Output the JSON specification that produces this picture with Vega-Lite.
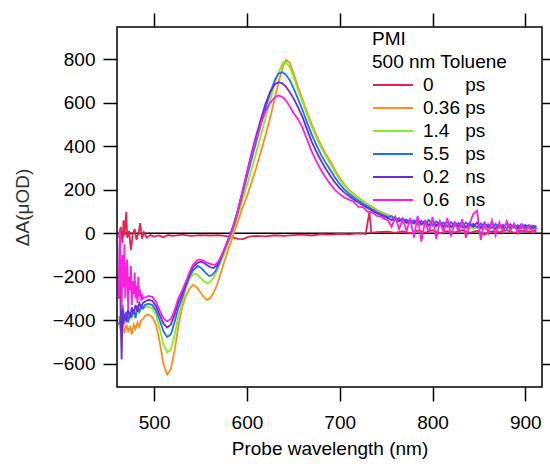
{
"$schema":"https://vega.github.io/schema/vega-lite/v6.json",
"width":425,"height":360,
"autosize":{"type":"none"},
"padding":{"left":117,"top":27,"right":8,"bottom":77},
"background":"white",
"config":{"font":"Liberation Sans","view":{"stroke":"black","strokeWidth":1.5},
"axis":{"grid":false,"domain":false,"tickColor":"black","tickWidth":1.5,"tickSize":14,"labelFontSize":19,"labelColor":"black","titleFontSize":19,"titleFontWeight":"normal","titleColor":"black","labelFont":"Liberation Sans","titleFont":"Liberation Sans","labelOverlap":false,"labelFlush":false}},
"datasets":{"spec":[
{"s":"a","w":462,"v":-20},{"s":"a","w":464,"v":30},{"s":"a","w":466,"v":-45},{"s":"a","w":467,"v":60},{"s":"a","w":468,"v":-10},{"s":"a","w":470,"v":99},{"s":"a","w":471,"v":-20},{"s":"a","w":473,"v":10},{"s":"a","w":475,"v":-77},{"s":"a","w":477,"v":-5},{"s":"a","w":479,"v":20},{"s":"a","w":481,"v":-30},{"s":"a","w":483,"v":0},{"s":"a","w":485,"v":47},{"s":"a","w":487,"v":-25},{"s":"a","w":489,"v":5},{"s":"a","w":492,"v":-20},{"s":"a","w":496,"v":-8},{"s":"a","w":500,"v":-15},{"s":"a","w":505,"v":-10},{"s":"a","w":510,"v":-18},{"s":"a","w":515,"v":-8},{"s":"a","w":520,"v":-12},{"s":"a","w":530,"v":-6},{"s":"a","w":540,"v":-12},{"s":"a","w":550,"v":-8},{"s":"a","w":560,"v":-10},{"s":"a","w":570,"v":-8},{"s":"a","w":580,"v":-14},{"s":"a","w":586,"v":-20},{"s":"a","w":590,"v":-26},{"s":"a","w":596,"v":-27},{"s":"a","w":602,"v":-15},{"s":"a","w":610,"v":-12},{"s":"a","w":620,"v":-14},{"s":"a","w":630,"v":-9},{"s":"a","w":640,"v":-12},{"s":"a","w":650,"v":-8},{"s":"a","w":660,"v":-6},{"s":"a","w":670,"v":-10},{"s":"a","w":680,"v":-4},{"s":"a","w":690,"v":-6},{"s":"a","w":700,"v":-2},{"s":"a","w":710,"v":-5},{"s":"a","w":720,"v":0},{"s":"a","w":728,"v":-3},{"s":"a","w":732,"v":99},{"s":"a","w":734,"v":2},{"s":"a","w":740,"v":5},{"s":"a","w":752,"v":8},{"s":"a","w":760,"v":2},{"s":"a","w":768,"v":10},{"s":"a","w":776,"v":0},{"s":"a","w":784,"v":12},{"s":"a","w":792,"v":3},{"s":"a","w":800,"v":14},{"s":"a","w":808,"v":0},{"s":"a","w":816,"v":10},{"s":"a","w":824,"v":4},{"s":"a","w":832,"v":15},{"s":"a","w":840,"v":2},{"s":"a","w":848,"v":12},{"s":"a","w":856,"v":-5},{"s":"a","w":864,"v":10},{"s":"a","w":872,"v":5},{"s":"a","w":880,"v":15},{"s":"a","w":888,"v":2},{"s":"a","w":896,"v":12},{"s":"a","w":904,"v":6},{"s":"a","w":912,"v":10},

{"s":"b","w":462,"v":-410},{"s":"b","w":464,"v":-450},{"s":"b","w":466,"v":-400},{"s":"b","w":468,"v":-460},{"s":"b","w":470,"v":-420},{"s":"b","w":472,"v":-450},{"s":"b","w":474,"v":-430},{"s":"b","w":476,"v":-465},{"s":"b","w":478,"v":-420},{"s":"b","w":480,"v":-440},{"s":"b","w":482,"v":-410},{"s":"b","w":484,"v":-430},{"s":"b","w":486,"v":-400},{"s":"b","w":488,"v":-395},{"s":"b","w":490,"v":-380},{"s":"b","w":494,"v":-374},{"s":"b","w":498,"v":-385},{"s":"b","w":502,"v":-420},{"s":"b","w":506,"v":-500},{"s":"b","w":510,"v":-600},{"s":"b","w":514,"v":-650},{"s":"b","w":518,"v":-625},{"s":"b","w":522,"v":-540},{"s":"b","w":526,"v":-430},{"s":"b","w":530,"v":-345},{"s":"b","w":534,"v":-290},{"s":"b","w":538,"v":-255},{"s":"b","w":542,"v":-237},{"s":"b","w":546,"v":-248},{"s":"b","w":550,"v":-272},{"s":"b","w":554,"v":-296},{"s":"b","w":557,"v":-306},{"s":"b","w":560,"v":-300},{"s":"b","w":564,"v":-275},{"s":"b","w":568,"v":-235},{"s":"b","w":572,"v":-180},{"s":"b","w":576,"v":-125},{"s":"b","w":580,"v":-75},{"s":"b","w":585,"v":-10},{"s":"b","w":590,"v":50},{"s":"b","w":595,"v":115},{"s":"b","w":600,"v":170},{"s":"b","w":605,"v":235},{"s":"b","w":610,"v":300},{"s":"b","w":615,"v":375},{"s":"b","w":620,"v":450},{"s":"b","w":625,"v":530},{"s":"b","w":630,"v":620},{"s":"b","w":635,"v":710},{"s":"b","w":639,"v":770},{"s":"b","w":642,"v":798},{"s":"b","w":646,"v":785},{"s":"b","w":650,"v":740},{"s":"b","w":655,"v":675},{"s":"b","w":660,"v":615},{"s":"b","w":665,"v":555},{"s":"b","w":670,"v":500},{"s":"b","w":675,"v":450},{"s":"b","w":680,"v":405},{"s":"b","w":685,"v":365},{"s":"b","w":690,"v":330},{"s":"b","w":695,"v":290},{"s":"b","w":700,"v":255},{"s":"b","w":705,"v":225},{"s":"b","w":710,"v":200},{"s":"b","w":715,"v":182},{"s":"b","w":720,"v":165},{"s":"b","w":725,"v":150},{"s":"b","w":730,"v":135},{"s":"b","w":735,"v":122},{"s":"b","w":740,"v":108},{"s":"b","w":744,"v":100},{"s":"b","w":748,"v":92},
{"s":"b","w":752,"v":85},{"s":"b","w":756,"v":78},{"s":"b","w":760,"v":72},{"s":"b","w":764,"v":60},{"s":"b","w":768,"v":66},{"s":"b","w":772,"v":55},{"s":"b","w":776,"v":58},{"s":"b","w":780,"v":48},{"s":"b","w":784,"v":55},{"s":"b","w":788,"v":42},{"s":"b","w":792,"v":50},{"s":"b","w":796,"v":38},{"s":"b","w":800,"v":45},{"s":"b","w":804,"v":35},{"s":"b","w":808,"v":48},{"s":"b","w":812,"v":30},{"s":"b","w":816,"v":40},{"s":"b","w":820,"v":28},{"s":"b","w":824,"v":42},{"s":"b","w":828,"v":25},{"s":"b","w":832,"v":38},{"s":"b","w":836,"v":30},{"s":"b","w":840,"v":22},{"s":"b","w":844,"v":35},{"s":"b","w":848,"v":28},{"s":"b","w":852,"v":40},{"s":"b","w":856,"v":20},{"s":"b","w":860,"v":33},{"s":"b","w":864,"v":25},{"s":"b","w":868,"v":38},{"s":"b","w":872,"v":22},{"s":"b","w":876,"v":30},{"s":"b","w":880,"v":18},{"s":"b","w":884,"v":32},{"s":"b","w":888,"v":24},{"s":"b","w":892,"v":35},{"s":"b","w":896,"v":20},{"s":"b","w":900,"v":28},{"s":"b","w":904,"v":15},{"s":"b","w":908,"v":25},{"s":"b","w":912,"v":20},

{"s":"c","w":462,"v":-380},{"s":"c","w":464,"v":-420},{"s":"c","w":466,"v":-360},{"s":"c","w":468,"v":-410},{"s":"c","w":470,"v":-380},{"s":"c","w":472,"v":-400},{"s":"c","w":474,"v":-370},{"s":"c","w":476,"v":-390},{"s":"c","w":478,"v":-360},{"s":"c","w":480,"v":-380},{"s":"c","w":482,"v":-350},{"s":"c","w":484,"v":-365},{"s":"c","w":486,"v":-345},{"s":"c","w":488,"v":-350},{"s":"c","w":490,"v":-340},{"s":"c","w":494,"v":-338},{"s":"c","w":498,"v":-345},{"s":"c","w":502,"v":-375},{"s":"c","w":506,"v":-440},{"s":"c","w":510,"v":-510},{"s":"c","w":514,"v":-548},{"s":"c","w":518,"v":-535},{"s":"c","w":522,"v":-470},{"s":"c","w":526,"v":-385},{"s":"c","w":530,"v":-320},{"s":"c","w":534,"v":-255},{"s":"c","w":538,"v":-210},{"s":"c","w":542,"v":-190},{"s":"c","w":546,"v":-187},{"s":"c","w":550,"v":-205},{"s":"c","w":554,"v":-222},{"s":"c","w":557,"v":-229},{"s":"c","w":560,"v":-225},{"s":"c","w":564,"v":-205},{"s":"c","w":568,"v":-170},{"s":"c","w":572,"v":-130},{"s":"c","w":576,"v":-90},{"s":"c","w":580,"v":-45},{"s":"c","w":585,"v":10},{"s":"c","w":590,"v":75},{"s":"c","w":595,"v":150},{"s":"c","w":600,"v":220},{"s":"c","w":605,"v":295},{"s":"c","w":610,"v":370},{"s":"c","w":615,"v":450},{"s":"c","w":620,"v":530},{"s":"c","w":625,"v":610},{"s":"c","w":630,"v":690},{"s":"c","w":635,"v":750},{"s":"c","w":639,"v":787},{"s":"c","w":642,"v":785},{"s":"c","w":646,"v":765},{"s":"c","w":650,"v":722},{"s":"c","w":655,"v":660},{"s":"c","w":660,"v":602},{"s":"c","w":665,"v":542},{"s":"c","w":670,"v":488},{"s":"c","w":675,"v":438},{"s":"c","w":680,"v":394},{"s":"c","w":685,"v":354},{"s":"c","w":690,"v":320},{"s":"c","w":695,"v":281},{"s":"c","w":700,"v":248},{"s":"c","w":705,"v":219},{"s":"c","w":710,"v":196},{"s":"c","w":715,"v":178},{"s":"c","w":720,"v":161},{"s":"c","w":725,"v":146},{"s":"c","w":730,"v":132},{"s":"c","w":735,"v":118},{"s":"c","w":740,"v":105},{"s":"c","w":744,"v":96},{"s":"c","w":748,"v":88},
{"s":"c","w":752,"v":80},{"s":"c","w":756,"v":70},{"s":"c","w":760,"v":74},{"s":"c","w":764,"v":58},{"s":"c","w":768,"v":62},{"s":"c","w":772,"v":50},{"s":"c","w":776,"v":56},{"s":"c","w":780,"v":44},{"s":"c","w":784,"v":52},{"s":"c","w":788,"v":40},{"s":"c","w":792,"v":46},{"s":"c","w":796,"v":32},{"s":"c","w":800,"v":44},{"s":"c","w":804,"v":30},{"s":"c","w":808,"v":40},{"s":"c","w":812,"v":26},{"s":"c","w":816,"v":38},{"s":"c","w":820,"v":30},{"s":"c","w":824,"v":36},{"s":"c","w":828,"v":22},{"s":"c","w":832,"v":34},{"s":"c","w":836,"v":26},{"s":"c","w":840,"v":32},{"s":"c","w":844,"v":20},{"s":"c","w":848,"v":30},{"s":"c","w":852,"v":24},{"s":"c","w":856,"v":34},{"s":"c","w":860,"v":18},{"s":"c","w":864,"v":28},{"s":"c","w":868,"v":22},{"s":"c","w":872,"v":32},{"s":"c","w":876,"v":18},{"s":"c","w":880,"v":26},{"s":"c","w":884,"v":20},{"s":"c","w":888,"v":30},{"s":"c","w":892,"v":16},{"s":"c","w":896,"v":26},{"s":"c","w":900,"v":20},{"s":"c","w":904,"v":28},{"s":"c","w":908,"v":18},{"s":"c","w":912,"v":22},

{"s":"d","w":462,"v":-420},{"s":"d","w":464,"v":-380},{"s":"d","w":466,"v":-330},{"s":"d","w":468,"v":-400},{"s":"d","w":470,"v":-360},{"s":"d","w":472,"v":-410},{"s":"d","w":474,"v":-370},{"s":"d","w":476,"v":-380},{"s":"d","w":478,"v":-350},{"s":"d","w":480,"v":-390},{"s":"d","w":482,"v":-340},{"s":"d","w":484,"v":-360},{"s":"d","w":486,"v":-335},{"s":"d","w":488,"v":-345},{"s":"d","w":490,"v":-330},{"s":"d","w":494,"v":-324},{"s":"d","w":498,"v":-330},{"s":"d","w":502,"v":-355},{"s":"d","w":506,"v":-400},{"s":"d","w":510,"v":-450},{"s":"d","w":514,"v":-477},{"s":"d","w":518,"v":-465},{"s":"d","w":522,"v":-410},{"s":"d","w":526,"v":-345},{"s":"d","w":530,"v":-300},{"s":"d","w":534,"v":-245},{"s":"d","w":538,"v":-200},{"s":"d","w":542,"v":-170},{"s":"d","w":547,"v":-150},{"s":"d","w":551,"v":-160},{"s":"d","w":555,"v":-180},{"s":"d","w":559,"v":-196},{"s":"d","w":562,"v":-194},{"s":"d","w":566,"v":-175},{"s":"d","w":570,"v":-140},{"s":"d","w":575,"v":-85},{"s":"d","w":580,"v":-30},{"s":"d","w":585,"v":25},{"s":"d","w":590,"v":95},{"s":"d","w":595,"v":175},{"s":"d","w":600,"v":260},{"s":"d","w":605,"v":340},{"s":"d","w":610,"v":420},{"s":"d","w":615,"v":500},{"s":"d","w":620,"v":575},{"s":"d","w":625,"v":645},{"s":"d","w":630,"v":705},{"s":"d","w":634,"v":735},{"s":"d","w":638,"v":741},{"s":"d","w":642,"v":730},{"s":"d","w":646,"v":705},{"s":"d","w":650,"v":670},{"s":"d","w":655,"v":618},{"s":"d","w":660,"v":566},{"s":"d","w":665,"v":507},{"s":"d","w":670,"v":453},{"s":"d","w":675,"v":404},{"s":"d","w":680,"v":361},{"s":"d","w":685,"v":323},{"s":"d","w":690,"v":290},{"s":"d","w":695,"v":256},{"s":"d","w":700,"v":227},{"s":"d","w":705,"v":202},{"s":"d","w":710,"v":183},{"s":"d","w":715,"v":166},{"s":"d","w":720,"v":151},{"s":"d","w":725,"v":137},{"s":"d","w":730,"v":124},{"s":"d","w":735,"v":110},{"s":"d","w":740,"v":98},{"s":"d","w":744,"v":90},{"s":"d","w":748,"v":83},
{"s":"d","w":752,"v":75},{"s":"d","w":756,"v":80},{"s":"d","w":760,"v":62},{"s":"d","w":764,"v":70},{"s":"d","w":768,"v":52},{"s":"d","w":772,"v":64},{"s":"d","w":776,"v":46},{"s":"d","w":780,"v":60},{"s":"d","w":784,"v":42},{"s":"d","w":788,"v":58},{"s":"d","w":792,"v":40},{"s":"d","w":796,"v":62},{"s":"d","w":800,"v":36},{"s":"d","w":804,"v":55},{"s":"d","w":808,"v":38},{"s":"d","w":812,"v":50},{"s":"d","w":816,"v":30},{"s":"d","w":820,"v":52},{"s":"d","w":824,"v":34},{"s":"d","w":828,"v":48},{"s":"d","w":832,"v":28},{"s":"d","w":836,"v":50},{"s":"d","w":840,"v":32},{"s":"d","w":844,"v":44},{"s":"d","w":848,"v":26},{"s":"d","w":852,"v":46},{"s":"d","w":856,"v":30},{"s":"d","w":860,"v":42},{"s":"d","w":864,"v":24},{"s":"d","w":868,"v":44},{"s":"d","w":872,"v":28},{"s":"d","w":876,"v":40},{"s":"d","w":880,"v":22},{"s":"d","w":884,"v":42},{"s":"d","w":888,"v":26},{"s":"d","w":892,"v":38},{"s":"d","w":896,"v":24},{"s":"d","w":900,"v":40},{"s":"d","w":904,"v":26},{"s":"d","w":908,"v":36},{"s":"d","w":912,"v":30},

{"s":"e","w":462,"v":-300},{"s":"e","w":463,"v":-50},{"s":"e","w":464,"v":-400},{"s":"e","w":465,"v":-580},{"s":"e","w":466,"v":-350},{"s":"e","w":467,"v":-420},{"s":"e","w":468,"v":-380},{"s":"e","w":470,"v":-400},{"s":"e","w":472,"v":-350},{"s":"e","w":474,"v":-390},{"s":"e","w":476,"v":-340},{"s":"e","w":478,"v":-370},{"s":"e","w":480,"v":-330},{"s":"e","w":482,"v":-360},{"s":"e","w":484,"v":-320},{"s":"e","w":486,"v":-340},{"s":"e","w":488,"v":-320},{"s":"e","w":490,"v":-315},{"s":"e","w":494,"v":-306},{"s":"e","w":498,"v":-310},{"s":"e","w":502,"v":-335},{"s":"e","w":506,"v":-375},{"s":"e","w":510,"v":-415},{"s":"e","w":514,"v":-433},{"s":"e","w":518,"v":-420},{"s":"e","w":522,"v":-375},{"s":"e","w":526,"v":-320},{"s":"e","w":530,"v":-280},{"s":"e","w":534,"v":-235},{"s":"e","w":538,"v":-190},{"s":"e","w":542,"v":-155},{"s":"e","w":547,"v":-135},{"s":"e","w":551,"v":-130},{"s":"e","w":555,"v":-140},{"s":"e","w":560,"v":-155},{"s":"e","w":564,"v":-160},{"s":"e","w":568,"v":-145},{"s":"e","w":572,"v":-110},{"s":"e","w":576,"v":-70},{"s":"e","w":580,"v":-25},{"s":"e","w":585,"v":30},{"s":"e","w":590,"v":105},{"s":"e","w":595,"v":190},{"s":"e","w":600,"v":280},{"s":"e","w":605,"v":370},{"s":"e","w":610,"v":450},{"s":"e","w":615,"v":525},{"s":"e","w":620,"v":595},{"s":"e","w":625,"v":650},{"s":"e","w":630,"v":685},{"s":"e","w":634,"v":695},{"s":"e","w":638,"v":690},{"s":"e","w":642,"v":675},{"s":"e","w":646,"v":650},{"s":"e","w":650,"v":623},{"s":"e","w":655,"v":580},{"s":"e","w":660,"v":533},{"s":"e","w":665,"v":476},{"s":"e","w":670,"v":421},{"s":"e","w":675,"v":374},{"s":"e","w":680,"v":333},{"s":"e","w":685,"v":296},{"s":"e","w":690,"v":264},{"s":"e","w":695,"v":233},{"s":"e","w":700,"v":208},{"s":"e","w":705,"v":187},{"s":"e","w":710,"v":172},{"s":"e","w":715,"v":156},{"s":"e","w":720,"v":142},{"s":"e","w":725,"v":129},{"s":"e","w":730,"v":116},{"s":"e","w":735,"v":104},{"s":"e","w":740,"v":92},{"s":"e","w":744,"v":84},{"s":"e","w":748,"v":77},
{"s":"e","w":752,"v":70},{"s":"e","w":756,"v":60},{"s":"e","w":760,"v":72},{"s":"e","w":764,"v":55},{"s":"e","w":768,"v":68},{"s":"e","w":772,"v":48},{"s":"e","w":776,"v":62},{"s":"e","w":780,"v":45},{"s":"e","w":784,"v":66},{"s":"e","w":788,"v":40},{"s":"e","w":792,"v":58},{"s":"e","w":796,"v":36},{"s":"e","w":800,"v":60},{"s":"e","w":804,"v":34},{"s":"e","w":808,"v":54},{"s":"e","w":812,"v":30},{"s":"e","w":816,"v":56},{"s":"e","w":820,"v":28},{"s":"e","w":824,"v":50},{"s":"e","w":828,"v":32},{"s":"e","w":832,"v":52},{"s":"e","w":836,"v":26},{"s":"e","w":840,"v":48},{"s":"e","w":844,"v":30},{"s":"e","w":848,"v":50},{"s":"e","w":852,"v":24},{"s":"e","w":856,"v":46},{"s":"e","w":860,"v":28},{"s":"e","w":864,"v":44},{"s":"e","w":868,"v":22},{"s":"e","w":872,"v":42},{"s":"e","w":876,"v":26},{"s":"e","w":880,"v":44},{"s":"e","w":884,"v":24},{"s":"e","w":888,"v":40},{"s":"e","w":892,"v":22},{"s":"e","w":896,"v":42},{"s":"e","w":900,"v":26},{"s":"e","w":904,"v":38},{"s":"e","w":908,"v":24},{"s":"e","w":912,"v":34},

{"s":"f","w":462,"v":-300},{"s":"f","w":463,"v":20},{"s":"f","w":464,"v":-150},{"s":"f","w":465,"v":-350},{"s":"f","w":466,"v":-100},{"s":"f","w":467,"v":-250},{"s":"f","w":468,"v":-50},{"s":"f","w":469,"v":-300},{"s":"f","w":470,"v":-180},{"s":"f","w":471,"v":-120},{"s":"f","w":472,"v":-350},{"s":"f","w":473,"v":-200},{"s":"f","w":474,"v":-260},{"s":"f","w":475,"v":-150},{"s":"f","w":476,"v":-330},{"s":"f","w":477,"v":-220},{"s":"f","w":478,"v":-280},{"s":"f","w":479,"v":-180},{"s":"f","w":480,"v":-300},{"s":"f","w":481,"v":-240},{"s":"f","w":482,"v":-320},{"s":"f","w":483,"v":-200},{"s":"f","w":484,"v":-290},{"s":"f","w":485,"v":-260},{"s":"f","w":486,"v":-310},{"s":"f","w":487,"v":-280},{"s":"f","w":488,"v":-300},{"s":"f","w":490,"v":-295},{"s":"f","w":494,"v":-288},{"s":"f","w":498,"v":-292},{"s":"f","w":502,"v":-315},{"s":"f","w":506,"v":-355},{"s":"f","w":510,"v":-390},{"s":"f","w":514,"v":-405},{"s":"f","w":518,"v":-395},{"s":"f","w":522,"v":-355},{"s":"f","w":526,"v":-300},{"s":"f","w":530,"v":-265},{"s":"f","w":534,"v":-225},{"s":"f","w":538,"v":-180},{"s":"f","w":542,"v":-145},{"s":"f","w":546,"v":-125},{"s":"f","w":549,"v":-120},{"s":"f","w":553,"v":-125},{"s":"f","w":557,"v":-135},{"s":"f","w":562,"v":-143},{"s":"f","w":566,"v":-145},{"s":"f","w":570,"v":-125},{"s":"f","w":575,"v":-80},{"s":"f","w":580,"v":-30},{"s":"f","w":585,"v":25},{"s":"f","w":590,"v":100},{"s":"f","w":595,"v":185},{"s":"f","w":600,"v":275},{"s":"f","w":605,"v":360},{"s":"f","w":610,"v":435},{"s":"f","w":615,"v":505},{"s":"f","w":620,"v":560},{"s":"f","w":625,"v":600},{"s":"f","w":630,"v":625},{"s":"f","w":634,"v":634},{"s":"f","w":638,"v":628},{"s":"f","w":642,"v":612},{"s":"f","w":646,"v":585},{"s":"f","w":650,"v":555},{"s":"f","w":655,"v":525},{"s":"f","w":660,"v":485},{"s":"f","w":665,"v":430},{"s":"f","w":670,"v":375},{"s":"f","w":675,"v":330},{"s":"f","w":680,"v":290},{"s":"f","w":685,"v":255},{"s":"f","w":690,"v":225},{"s":"f","w":695,"v":200},{"s":"f","w":700,"v":180},{"s":"f","w":705,"v":165},{"s":"f","w":710,"v":155},{"s":"f","w":715,"v":145},{"s":"f","w":720,"v":122},{"s":"f","w":725,"v":120},{"s":"f","w":730,"v":100},{"s":"f","w":735,"v":98},{"s":"f","w":740,"v":80},{"s":"f","w":744,"v":78},{"s":"f","w":748,"v":66},
{"s":"f","w":752,"v":60},{"s":"f","w":756,"v":30},{"s":"f","w":760,"v":75},{"s":"f","w":764,"v":20},{"s":"f","w":768,"v":65},{"s":"f","w":772,"v":10},{"s":"f","w":776,"v":70},{"s":"f","w":780,"v":-20},{"s":"f","w":784,"v":80},{"s":"f","w":788,"v":-38},{"s":"f","w":792,"v":60},{"s":"f","w":796,"v":0},{"s":"f","w":800,"v":75},{"s":"f","w":804,"v":-25},{"s":"f","w":808,"v":55},{"s":"f","w":812,"v":5},{"s":"f","w":816,"v":70},{"s":"f","w":820,"v":-15},{"s":"f","w":824,"v":50},{"s":"f","w":828,"v":10},{"s":"f","w":832,"v":65},{"s":"f","w":836,"v":-20},{"s":"f","w":840,"v":45},{"s":"f","w":844,"v":90},{"s":"f","w":848,"v":104},{"s":"f","w":852,"v":-30},{"s":"f","w":856,"v":55},{"s":"f","w":860,"v":0},{"s":"f","w":864,"v":60},{"s":"f","w":868,"v":-10},{"s":"f","w":872,"v":50},{"s":"f","w":876,"v":5},{"s":"f","w":880,"v":55},{"s":"f","w":884,"v":15},{"s":"f","w":888,"v":45},{"s":"f","w":892,"v":0},{"s":"f","w":896,"v":40},{"s":"f","w":900,"v":10},{"s":"f","w":904,"v":35},{"s":"f","w":908,"v":5},{"s":"f","w":912,"v":25}
]},
"resolve":{"axis":{"x":"independent","y":"independent"}},
"layer":[
{"data":{"values":[{"z":0}]},
 "mark":{"type":"rule","color":"black","strokeWidth":1.5},
 "encoding":{
  "x":{"datum":460,"type":"quantitative","scale":{"domain":[460,918],"nice":false,"zero":false},"axis":{"orient":"top","values":[500,600,700,800,900],"labels":false,"title":null}},
  "x2":{"datum":918},
  "y":{"datum":0,"type":"quantitative","scale":{"domain":[-707,949],"nice":false,"zero":false},"axis":{"orient":"right","values":[-600,-400,-200,0,200,400,600,800],"labels":false,"title":null}}
 }},
{"data":{"name":"spec"},
 "mark":{"type":"line","strokeWidth":1.8,"clip":true},
 "encoding":{
  "x":{"field":"w","type":"quantitative","scale":{"domain":[460,918],"nice":false,"zero":false},"axis":{"orient":"bottom","values":[500,600,700,800,900],"title":"Probe wavelength (nm)","labelPadding":12,"titlePadding":7}},
  "y":{"field":"v","type":"quantitative","scale":{"domain":[-707,949],"nice":false,"zero":false},"axis":{"orient":"left","values":[-600,-400,-200,0,200,400,600,800],"title":"ΔA(μOD)","titleColor":"#333333","labelPadding":8,"titlePadding":20}},
  "color":{"field":"s","type":"nominal","scale":{"domain":["a","b","c","d","e","f"],"range":["#e8214f","#ff8c1f","#88ee22","#1f6fff","#6a2bd9","#ff1fe0"]},
   "legend":{"orient":"none","legendX":255,"legendY":3,"title":["PMI","500 nm Toluene"],"titleFontSize":19,"titleFontWeight":"normal","titleColor":"black","titleLineHeight":23,"titlePadding":2,"titleFont":"Liberation Sans","labelFont":"Liberation Sans","labelFontSize":19,"labelColor":"black","symbolType":"M-1,0L3,0","symbolSize":400,"symbolStrokeWidth":2,"labelOffset":29,"rowPadding":2,"padding":0,
   "labelExpr":"{'a':'0\u00a0\u00a0\u00a0\u00a0\u00a0\u00a0ps','b':'0.36\u00a0ps','c':'1.4\u00a0\u00a0\u00a0ps','d':'5.5\u00a0\u00a0\u00a0ps','e':'0.2\u00a0\u00a0\u00a0ns','f':'0.6\u00a0\u00a0\u00a0ns'}[datum.label]"}}
 }}
]
}
